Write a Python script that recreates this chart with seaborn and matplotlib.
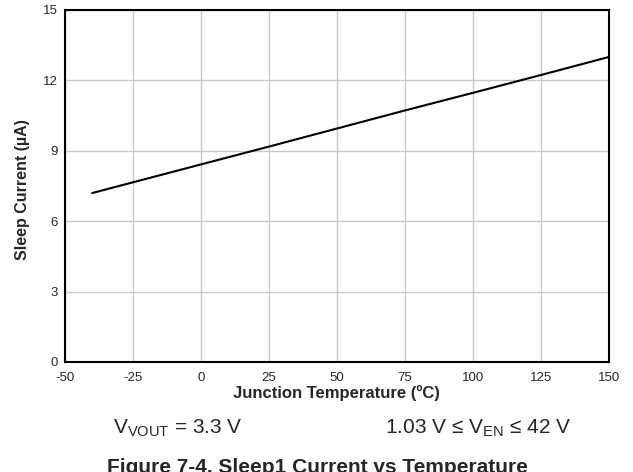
import matplotlib
matplotlib.use("Agg")
import matplotlib.pyplot as plt
import seaborn as sns
import pandas as pd

temperature = [-40, 0, 25, 50, 75, 100, 125, 150]
sleep_current = [7.2, 8.42, 9.18, 9.95, 10.72, 11.47, 12.23, 13.0]
x_ticks = [-50, -25, 0, 25, 50, 75, 100, 125, 150]
y_ticks = [0, 3, 6, 9, 12, 15]

sns.set_theme(style="white")
plt.rcParams['font.family'] = ['Liberation Sans', 'DejaVu Sans']

df = pd.DataFrame({"T": temperature, "I": sleep_current})

W, H = 633, 472
fig = plt.figure(figsize=(W / 100, H / 100), dpi=100)
ax = fig.add_axes([65 / W, 110 / H, 544 / W, 352 / H])
sns.lineplot(data=df, x="T", y="I", ax=ax, color="black", linewidth=1.5)

ax.set_xlim(-50, 150)
ax.set_ylim(0, 15)
ax.set_xticks(x_ticks)
ax.set_yticks(y_ticks)
ax.set_xticklabels([str(v) for v in x_ticks], fontsize=9.5)
ax.set_yticklabels([str(v) for v in y_ticks], fontsize=9.5)
ax.tick_params(axis="x", length=0, pad=7)
ax.tick_params(axis="y", length=0, pad=5)
ax.grid(True, color="#c8c8c8", linewidth=1)
for s in ax.spines.values():
    s.set_color("black")
    s.set_linewidth(1.5)
ax.set_xlabel("Junction Temperature (ºC)", fontsize=12, fontweight="bold")
ax.xaxis.set_label_coords((336 - 65) / 544, (362 - 385) / 352)
ax.set_ylabel("Sleep Current (µA)", fontsize=11.5, fontweight="bold")
ax.yaxis.set_label_coords((30 - 65) / 544, (362 - 190) / 352)

fig.text(178 / W, 1 - 433 / H, r"V$_{\mathregular{VOUT}}$ = 3.3 V", fontsize=15, ha="center", va="baseline")
fig.text(478 / W, 1 - 433 / H, r"1.03 V ≤ V$_{\mathregular{EN}}$ ≤ 42 V", fontsize=15, ha="center", va="baseline")
fig.text(317.5 / W, 1 - 473 / H, "Figure 7-4. Sleep1 Current vs Temperature", fontsize=15, fontweight="bold", ha="center", va="baseline")

fig.savefig("out.png", dpi=100)
